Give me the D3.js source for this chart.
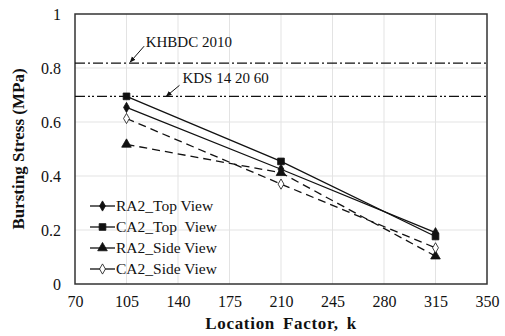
<!DOCTYPE html>
<html><head><meta charset="utf-8">
<script src="https://cdn.jsdelivr.net/npm/d3@7"></script>
<style>body{margin:0;background:#fff}svg{display:block}</style>
</head><body><svg id="c" width="505" height="336"></svg>
<script>
const xCats = [105, 210, 315];
const ra2Top = [0.654, 0.425, 0.190];
const ca2Top = [0.695, 0.454, 0.176];
const ra2Side = [0.517, 0.412, 0.103];
const ca2Side = [0.613, 0.370, 0.134];
const seriesNames = ["RA2_Top View", "CA2_Top  View", "RA2_Side View", "CA2_Side View"];
const xTicks = [70, 105, 140, 175, 210, 245, 280, 315, 350];
const yTicks = [0, 0.2, 0.4, 0.6, 0.8, 1];
const refNames = ["KHBDC 2010", "KDS 14 20 60"];
const refValues = [0.818, 0.695];

const FONT = "'Liberation Serif'";
const W = 505, H = 336, m = {l: 75, r: 18, t: 14, b: 52};
const svg = d3.select("#c");
const x = d3.scaleLinear().domain([70, 350]).range([m.l, W - m.r]);
const y = d3.scaleLinear().domain([0, 1]).range([H - m.b, m.t]);

// grid
svg.append("g").selectAll("line").data(xTicks.slice(1, -1)).join("line")
  .attr("x1", d => x(d)).attr("x2", d => x(d)).attr("y1", y(0)).attr("y2", y(1))
  .attr("stroke", "#e3e3e3").attr("stroke-width", 1);
svg.append("g").selectAll("line").data(yTicks.slice(1, -1)).join("line")
  .attr("x1", x(70)).attr("x2", x(350)).attr("y1", d => y(d)).attr("y2", d => y(d))
  .attr("stroke", "#e3e3e3").attr("stroke-width", 1);

// axes
const xa = svg.append("g").attr("transform", `translate(0,${y(0)})`)
  .call(d3.axisBottom(x).tickValues(xTicks).tickSize(0).tickPadding(12));
const ya = svg.append("g").attr("transform", `translate(${x(70)},0)`)
  .call(d3.axisLeft(y).tickValues(yTicks).tickSize(0).tickPadding(14).tickFormat(d => d === 0 || d === 1 ? String(d) : d3.format(".1f")(d)));
[xa, ya].forEach(a => { a.attr("font-family", null).attr("font-size", null); a.select(".domain").remove(); a.selectAll("text").attr("fill", "#111").style("font-size", "16px").style("font-family", FONT); });

// frame
svg.append("rect").attr("x", x(70)).attr("y", y(1)).attr("width", x(350) - x(70)).attr("height", y(0) - y(1))
  .attr("fill", "none").attr("stroke", "#333").attr("stroke-width", 1.5);

// reference lines
const refDash = ["10,3,2,3", "10,3,2,2,2,3"];
svg.append("g").selectAll("line").data(refValues).join("line")
  .attr("x1", x(70)).attr("x2", x(350)).attr("y1", d => y(d)).attr("y2", d => y(d))
  .attr("stroke", "#111").attr("stroke-width", 1.3).attr("stroke-dasharray", (d, i) => refDash[i]);

// annotations with arrows
svg.append("defs").append("marker").attr("id", "ah").attr("viewBox", "0 0 10 10").attr("refX", 9).attr("refY", 5)
  .attr("markerWidth", 6).attr("markerHeight", 6).attr("orient", "auto")
  .append("path").attr("d", "M0,1 L10,5 L0,9 Z").attr("fill", "#111");
const ann = [
  {tx: x(118), ty: y(refValues[0]) - 16, ax1: x(117), ay1: y(refValues[0]) - 17, ax2: x(107.5), ay2: y(refValues[0]) - 1},
  {tx: x(143), ty: y(refValues[1]) - 13, ax1: x(141), ay1: y(refValues[1]) - 11, ax2: x(132), ay2: y(refValues[1])}
];
ann.forEach((a, i) => {
  svg.append("line").attr("x1", a.ax1).attr("y1", a.ay1).attr("x2", a.ax2).attr("y2", a.ay2)
    .attr("stroke", "#111").attr("stroke-width", 1).attr("marker-end", "url(#ah)");
  svg.append("text").attr("x", a.tx).attr("y", a.ty).style("font-size", "15px").style("font-family", FONT).attr("fill", "#111").text(refNames[i]);
});

// series
const allSeries = [ra2Top, ca2Top, ra2Side, ca2Side];
const dashes = [null, null, "8,5", "8,5"];
const line = d3.line().x((d, i) => x(xCats[i])).y(d => y(d));
allSeries.forEach((s, k) => {
  svg.append("path").datum(s).attr("d", line).attr("fill", "none").attr("stroke", "#111")
    .attr("stroke-width", 1.3).attr("stroke-dasharray", dashes[k]);
});
const symTypes = [d3.symbolDiamond, d3.symbolSquare, d3.symbolTriangle, d3.symbolDiamond];
const symSizes = [30, 45, 40, 30];
const symFill = ["#111", "#111", "#111", "#fff"];
function sym(k) { return d3.symbol().type(symTypes[k]).size(symSizes[k])(); }
allSeries.forEach((s, k) => {
  svg.append("g").selectAll("path").data(s).join("path")
    .attr("transform", (d, i) => `translate(${x(xCats[i])},${y(d)})`)
    .attr("d", sym(k)).attr("fill", symFill[k]).attr("stroke", "#111").attr("stroke-width", 0.8);
});

// legend
const lg = svg.append("g").attr("transform", "translate(90,206)");
seriesNames.forEach((n, k) => {
  const g = lg.append("g").attr("transform", `translate(0,${k * 21})`);
  g.append("line").attr("x1", 0).attr("x2", 25).attr("stroke", "#111").attr("stroke-width", 1.3);
  g.append("path").attr("transform", "translate(12.5,0)").attr("d", sym(k)).attr("fill", symFill[k]).attr("stroke", "#111").attr("stroke-width", 0.8);
  g.append("text").attr("x", 26).attr("y", 5).style("font-size", "15.5px").style("font-family", FONT).style("white-space", "pre").attr("fill", "#111").text(n);
});

// axis titles
svg.append("text").attr("x", 281).attr("y", 329).attr("text-anchor", "middle")
  .style("font-size", "17px").style("font-weight", "bold").style("font-family", FONT).style("letter-spacing", "0.7px").style("word-spacing", "3px")
  .attr("fill", "#111").text("Location Factor, k");
svg.append("text").attr("transform", `translate(24,${(y(0) + y(1)) / 2}) rotate(-90)`).attr("text-anchor", "middle")
  .style("font-size", "17px").style("font-weight", "bold").style("font-family", FONT).attr("fill", "#111").text("Bursting Stress (MPa)");
</script></body></html>
